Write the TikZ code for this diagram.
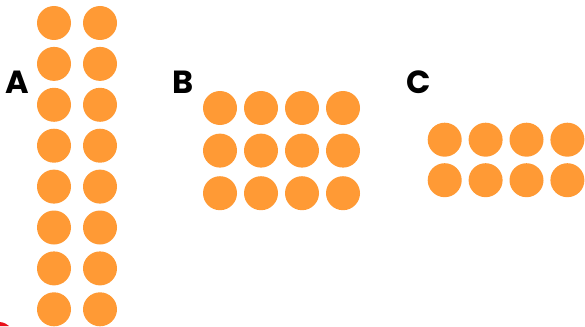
\documentclass[tikz,border=0pt]{standalone}
\usepackage{fontspec}
\setmainfont{Poppins}
\definecolor{dotorange}{HTML}{FF9A35}
\definecolor{slidered}{HTML}{E8101A}
\begin{document}
\begin{tikzpicture}[x=1pt,y=-1pt,
  dot/.style={circle,fill=dotorange,minimum size=34pt,inner sep=0pt,draw=none},
  lab/.style={font=\fontsize{32}{32}\selectfont\bfseries,inner sep=0pt,anchor=base west,text=black}]
\useasboundingbox (0,0) rectangle (585,326);
% red sliver bottom-left
\fill[slidered] (0,322) .. controls (4,322.5) and (7,324) .. (9,326) -- (0,326) -- cycle;
% group A: 2 columns x 8 rows
\foreach \r in {0,...,7}{
  \foreach \c in {0,1}{
    \node[dot] (a-\r-\c) at ({54+46*\c},{23+40.9*\r}) {};
  }
}
% group B: 4 columns x 3 rows
\foreach \r in {0,1,2}{
  \foreach \c in {0,...,3}{
    \node[dot] (b-\r-\c) at ({220+41*\c},{108+42.6*\r}) {};
  }
}
% group C: 4 columns x 2 rows
\foreach \r in {0,1}{
  \foreach \c in {0,...,3}{
    \node[dot] (c-\r-\c) at ({444.7+40.9*\c},{139.7+40.5*\r}) {};
  }
}
\node[lab] (la) at (5,93) {A};
\node[lab] (lb) at (172,93.3) {B};
\node[lab] (lc) at (406,94) {C};
\end{tikzpicture}
\end{document}
